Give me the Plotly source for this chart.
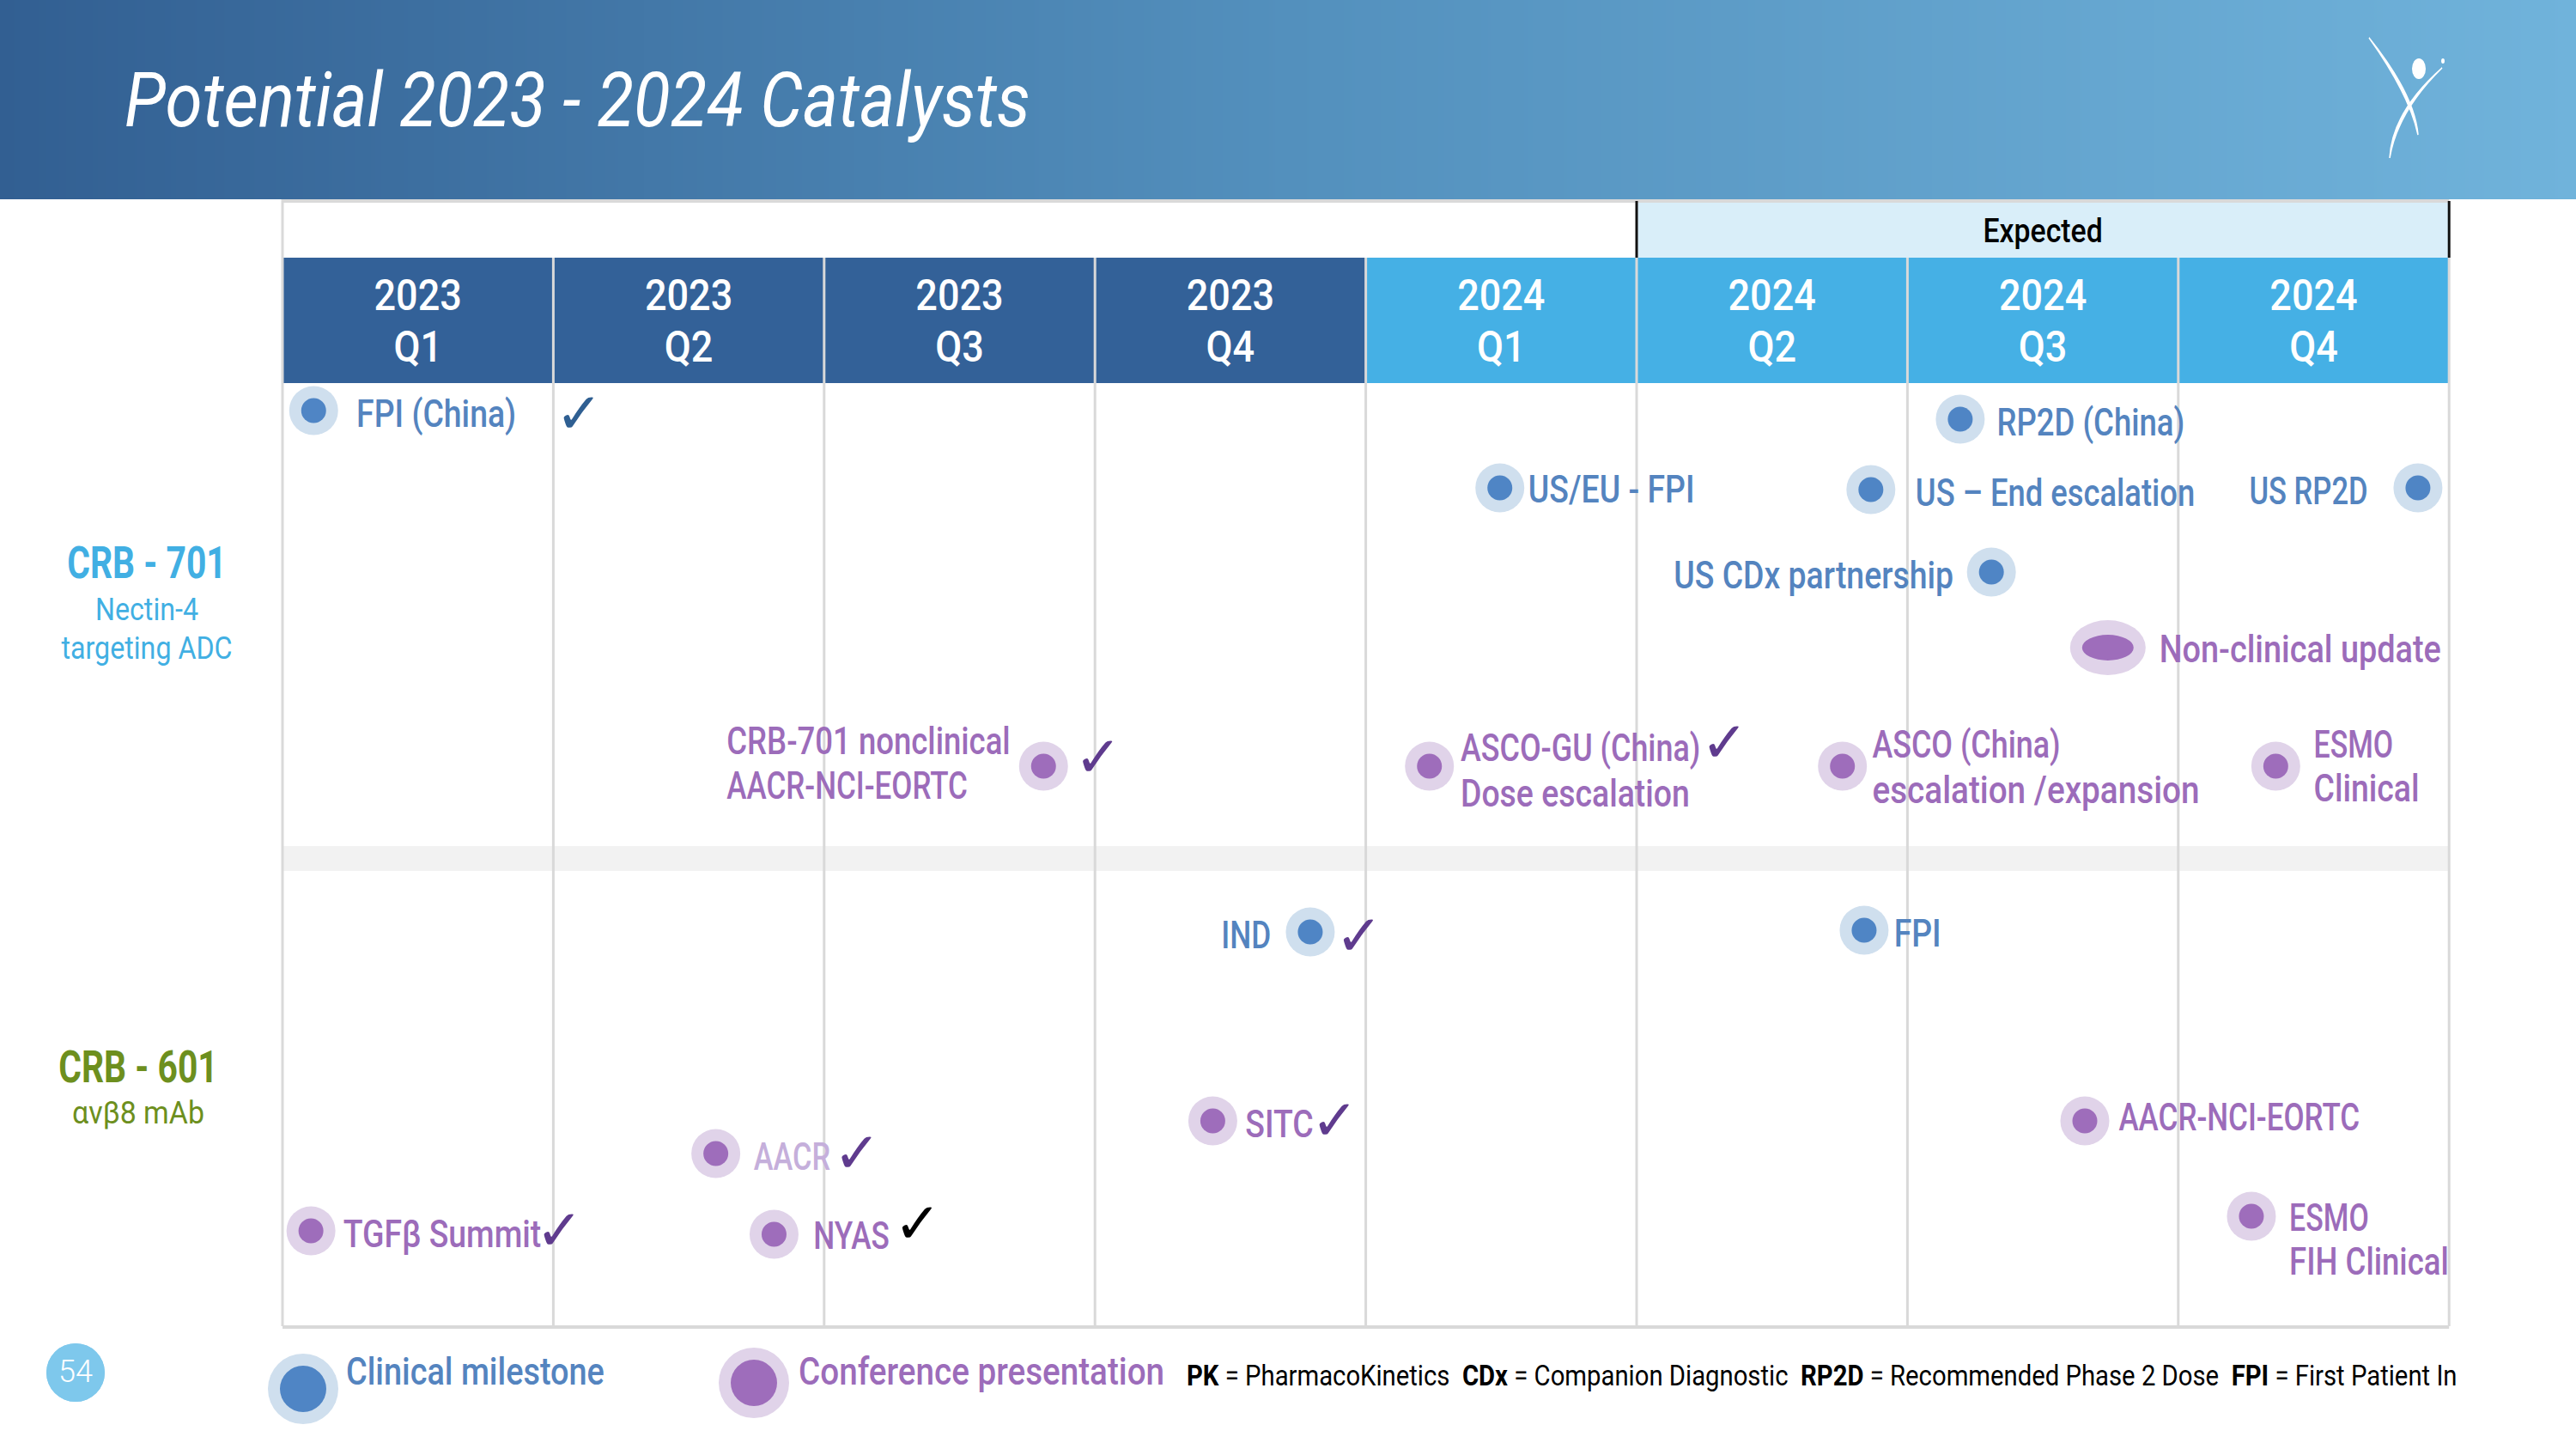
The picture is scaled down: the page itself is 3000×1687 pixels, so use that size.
import json

import plotly.graph_objects as go

W, H = 3000, 1687
FONT = "Roboto, sans-serif"
GRID_L, QUARTER_W = 329, 315.4

years = ["2023"] * 4 + ["2024"] * 4
quarters = ["Q1", "Q2", "Q3", "Q4", "Q1", "Q2", "Q3", "Q4"]

# markers: position in quarters from start of 2023, row in page rows
clin_q = [0.115, 4.495, 5.865, 6.195, 7.885, 6.31, 3.795, 5.84]
clin_row = [478, 568, 570, 488, 568, 666, 1085, 1083]

conf_q = [2.81, 4.235, 5.76, 7.36, 0.105, 1.6, 1.815, 3.435, 6.655, 7.27]
conf_row = [892, 892, 892, 892, 1433, 1343, 1437, 1305, 1305, 1416]
update_q, update_row = 6.74, 754  # the wide "Non-clinical update" marker

# labels that start at the position
clin_right = ["FPI (China)", "US/EU - FPI", "US – End escalation", "RP2D (China)", "FPI"]
clin_right_q = [0.273, 4.60, 6.03, 6.33, 5.95]
clin_right_row = [482, 570, 574, 492, 1087]

# labels that end at the position
clin_left = ["US RP2D", "US CDx partnership", "IND"]
clin_left_q = [7.70, 6.17, 3.65]
clin_left_row = [572, 670, 1089]

conf_labels = [
    "CRB-701 nonclinical", "AACR-NCI-EORTC", "ASCO-GU (China)", "Dose escalation",
    "ASCO (China)", "escalation /expansion", "ESMO", "Clinical", "Non-clinical update",
    "TGFβ Summit", "NYAS", "SITC", "AACR-NCI-EORTC", "ESMO", "FIH Clinical",
]
conf_label_q = [1.64, 1.64, 4.35, 4.35, 5.87, 5.87, 7.50, 7.50, 6.93, 0.224, 1.96, 3.555, 6.78, 7.41, 7.41]
conf_label_row = [863, 915, 871, 924, 867, 920, 867, 918, 756, 1437, 1439, 1309, 1301, 1418, 1469]

aacr_q, aacr_row = 1.74, 1347

check_q = [1.095, 3.012, 5.325, 3.975, 1.022, 2.122, 2.345, 3.885]
check_row = [483, 883, 866, 1091, 1434, 1344, 1426, 1306]
check_color = ["#2F5F92", "#5F3B8E", "#5F3B8E", "#5F3B8E", "#5F3B8E", "#5F3B8E", "#000000", "#5F3B8E"]

BLUE, BLUE_PALE = "#4F85C5", "#CFDFEE"
PURPLE, PURPLE_PALE = "#9E6DBB", "#E0D3E9"
LABEL_BLUE, LABEL_PURPLE = "#5484BF", "#9C6CBA"

# Roboto is wider than the slide's font, so text is squeezed after drawing:
# per font size, with a few strings that need their own factor
size_factors = {88: 0.89, 50: 0.9, 51: 0.8, 38: 0.89, 37: 0.87, 44: 0.85, 34: 0.861}
text_factors = {
    "AACR-NCI-EORTC": 0.795, "Conference presentation": 0.878, "Clinical milestone": 0.86,
    "US RP2D": 0.785, "escalation /expansion": 0.88, "CRB-701 nonclinical": 0.83,
    "US – End escalation": 0.826, "RP2D (China)": 0.83, "Non-clinical update": 0.86,
    "FIH Clinical": 0.83, "ESMO": 0.77, "ASCO (China)": 0.815, "ASCO-GU (China)": 0.815,
    "IND": 0.8, "NYAS": 0.8, "AACR": 0.78, "αvβ8 mAb": 0.915,
}
SQUEEZE = f"""
document.body.style.margin = '0';
var sizeFactors = {json.dumps(size_factors)};
var textFactors = {json.dumps(text_factors, ensure_ascii=False)};
document.querySelectorAll('.main-svg text').forEach(function (t) {{
    var f = textFactors[t.textContent] || sizeFactors[parseInt(t.style.fontSize)];
    if (f) {{
        t.setAttribute('textLength', t.getComputedTextLength() * f);
        t.setAttribute('lengthAdjust', 'spacingAndGlyphs');
    }}
}});
"""


def q(px):
    return (px - GRID_L) / QUARTER_W


def pt(x, y):
    return f"{x / W:.5f},{1 - y / H:.5f}"


fig = go.Figure()

# header band
fig.add_trace(
    go.Heatmap(
        z=[[0, 1]],
        x=[q(0), q(W)],
        y=[0, 232],
        zsmooth="best",
        showscale=False,
        hoverinfo="skip",
        colorscale=[[0, "#325F92"], [0.5, "#5390BD"], [1, "#70B3DB"]],
    )
)

shapes = []
# expected box
shapes.append(dict(type="rect", x0=5, x1=8, y0=236, y1=300, fillcolor="#D9EEF9", line_width=0, layer="below"))
# quarter headers
for i in range(8):
    shapes.append(
        dict(
            type="rect", x0=i, x1=i + 1, y0=300, y1=446,
            fillcolor="#336198" if years[i] == "2023" else "#45B0E5",
            line_width=0, layer="below",
        )
    )
# band between the two programs
shapes.append(dict(type="rect", x0=0, x1=8, y0=985, y1=1014, fillcolor="#F2F2F2", line_width=0, layer="below"))
# quarter lines
for i in range(9):
    shapes.append(
        dict(type="line", x0=i, x1=i, y0=232 if i == 0 else 300, y1=1544,
             line=dict(color="#D9D9D9", width=3), layer="below")
    )
shapes.append(dict(type="line", x0=0, x1=8, y0=234, y1=234, line=dict(color="#D9D9D9", width=4), layer="below"))
shapes.append(dict(type="line", x0=0, x1=8, y0=1545, y1=1545, line=dict(color="#D9D9D9", width=4), layer="below"))
for i in (5, 8):
    shapes.append(dict(type="line", x0=i, x1=i, y0=234, y1=300, line=dict(color="#111111", width=3), layer="below"))

# wide marker
shapes.append(dict(type="circle", xsizemode="pixel", ysizemode="pixel", xanchor=update_q, yanchor=update_row,
                   x0=-44, x1=44, y0=-32, y1=32, fillcolor=PURPLE_PALE, line_width=0, layer="below"))
shapes.append(dict(type="circle", xsizemode="pixel", ysizemode="pixel", xanchor=update_q, yanchor=update_row,
                   x0=-30, x1=30, y0=-15, y1=15, fillcolor=PURPLE, line_width=0, layer="below"))

# logo
logo = [
    f"M{pt(2759, 44)} Q{pt(2806, 110)} {pt(2816, 157)} Q{pt(2812, 110)} {pt(2759, 44)} Z",
    f"M{pt(2844, 79)} Q{pt(2786, 130)} {pt(2783, 184)} Q{pt(2792, 130)} {pt(2844, 79)} Z",
]
for path in logo:
    shapes.append(dict(type="path", path=path, xref="paper", yref="paper", fillcolor="white",
                       line=dict(color="white", width=1.5)))
shapes.append(dict(type="circle", xref="paper", yref="paper", x0=2809 / W, x1=2825 / W, y0=1 - 92 / H, y1=1 - 68 / H,
                   fillcolor="white", line_width=0))
shapes.append(dict(type="circle", xref="paper", yref="paper", x0=2843 / W, x1=2847 / W, y0=1 - 74 / H, y1=1 - 68 / H,
                   fillcolor="white", line_width=0))
fig.update_layout(shapes=shapes)


def add_markers(xs, rows, pale, solid, big=57, small=29):
    fig.add_trace(go.Scatter(x=xs, y=rows, mode="markers", hoverinfo="skip",
                             marker=dict(size=big, color=pale, line_width=0)))
    fig.add_trace(go.Scatter(x=xs, y=rows, mode="markers", hoverinfo="skip",
                             marker=dict(size=small, color=solid, line_width=0)))


def add_text(xs, rows, text, color, size=44, pos="middle right", family=FONT, weight=500):
    fig.add_trace(go.Scatter(x=xs, y=[r + 4 for r in rows], mode="text", text=text, textposition=pos, hoverinfo="skip",
                             textfont=dict(family=family, size=size, color=color, weight=weight)))


add_markers(clin_q, clin_row, BLUE_PALE, BLUE)
add_markers(conf_q, conf_row, PURPLE_PALE, PURPLE)
add_markers([q(353)], [1617], BLUE_PALE, BLUE, 82, 54)
add_markers([q(878)], [1610], PURPLE_PALE, PURPLE, 82, 54)
add_markers([q(88)], [1598], "#7EC8EC", "#7EC8EC", 68, 68)

add_text([q(145)], [121], ["<i>Potential 2023 - 2024 Catalysts</i>"], "white", size=88, weight=400)

add_text(clin_right_q, clin_right_row, clin_right, LABEL_BLUE)
add_text(clin_left_q, clin_left_row, clin_left, LABEL_BLUE, pos="middle left")
add_text(conf_label_q, conf_label_row, conf_labels, LABEL_PURPLE)
add_text([aacr_q], [aacr_row], ["AACR"], "#C5AFDB")
add_text(check_q, check_row, ["✓"] * len(check_q), check_color, size=66, pos="middle center",
         family="DejaVu Sans", weight=400)

# table header text
add_text([i + 0.5 for i in range(8)], [344] * 8, years, "white", size=50, pos="middle center")
add_text([i + 0.5 for i in range(8)], [404] * 8, quarters, "white", size=50, pos="middle center")
add_text([6.5], [268], ["Expected"], "black", size=38, pos="middle center")

# left side labels
add_text([q(171)], [656], ["CRB - 701"], "#41AFE3", size=51, pos="middle center", weight=700)
add_text([q(171)], [709], ["Nectin-4"], "#41AFE3", size=37, pos="middle center", weight=400)
add_text([q(171)], [754], ["targeting ADC"], "#41AFE3", size=37, pos="middle center", weight=400)
add_text([q(161)], [1243], ["CRB - 601"], "#6D8F1E", size=51, pos="middle center", weight=700)
add_text([q(161)], [1295], ["αvβ8 mAb"], "#6D8F1E", size=37, pos="middle center", weight=400)

# legend, page number, footnote
add_text([q(403)], [1597], ["Clinical milestone"], LABEL_BLUE)
add_text([q(930)], [1597], ["Conference presentation"], LABEL_PURPLE)
add_text([q(88)], [1596], ["54"], "white", size=36, pos="middle center", weight=300)
add_text(
    [q(1382)], [1600],
    ["<b>PK</b> = PharmacoKinetics  <b>CDx</b> = Companion Diagnostic  "
     "<b>RP2D</b> = Recommended Phase 2 Dose  <b>FPI</b> = First Patient In"],
    "black", size=34, weight=400,
)

fig.update_layout(
    width=W,
    height=H,
    margin=dict(l=0, r=0, t=0, b=0),
    paper_bgcolor="white",
    plot_bgcolor="white",
    showlegend=False,
    xaxis=dict(range=[q(0), q(W)], visible=False, fixedrange=True),
    yaxis=dict(range=[H, 0], visible=False, fixedrange=True),
)

fig.write_html("out.html", post_script=SQUEEZE, config=dict(displayModeBar=False))
